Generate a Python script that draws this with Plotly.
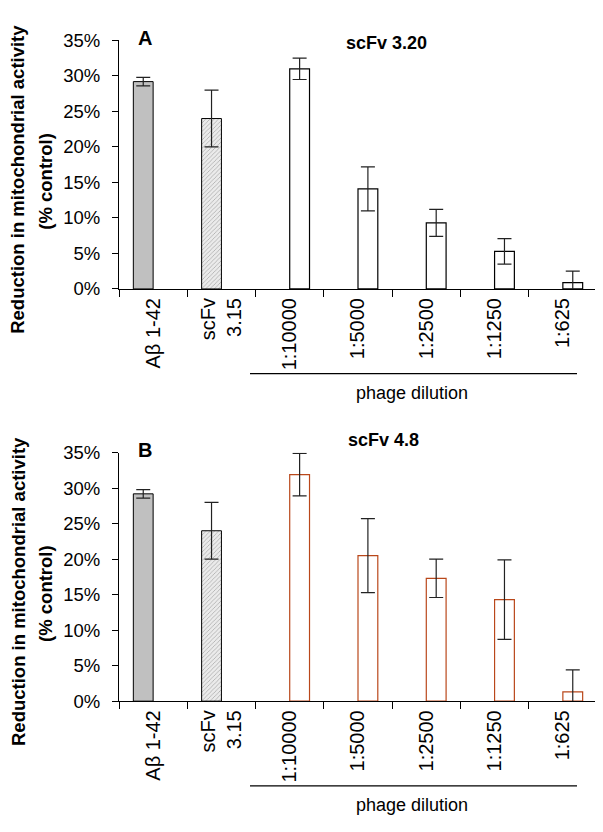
import plotly.graph_objects as go

# the page body adds an 8px margin, so the figure is 8px smaller on each axis
PAGE_OFF = 8
W, H = 603 - PAGE_OFF, 832 - PAGE_OFF

categories = ["Aβ 1-42", "scFv<br>3.15", "1:10000", "1:5000", "1:2500", "1:1250", "1:625"]
y_ticks = [0, 5, 10, 15, 20, 25, 30, 35]
y_tick_text = ["0%", "5%", "10%", "15%", "20%", "25%", "30%", "35%"]

control_vals = [29.2, 24.0]
control_err = [0.6, 4.0]

a_phage_vals = [31.0, 14.1, 9.3, 5.3, 0.9]
a_phage_err = [1.5, 3.1, 1.9, 1.8, 1.6]

b_phage_vals = [31.9, 20.5, 17.3, 14.3, 1.3]
b_phage_err = [3.0, 5.2, 2.7, 5.6, 3.1]

FONT = "Liberation Sans, Arial, sans-serif"
BAR_W = 0.29  # fraction of a category


def px_x(v: float) -> float:
    return (v - PAGE_OFF) / W


def px_y(v: float) -> float:
    return 1 - (v - PAGE_OFF) / H


def add_panel(fig: go.Figure, n: int, phage_vals, phage_err, phage_edge: str) -> None:
    xa, ya = ("x", "y") if n == 1 else (f"x{n}", f"y{n}")
    err_style = dict(type="data", thickness=1.2, width=7, color="#222222")
    fig.add_trace(
        go.Bar(
            x=categories[:2],
            y=control_vals,
            width=BAR_W,
            offset=-BAR_W,
            error_y=dict(array=control_err, **err_style),
            marker=dict(
                color=["#c0c0c0", "#ebebeb"],
                line=dict(color="black", width=1),
                pattern=dict(shape=["", "/"], fgcolor="#c2c2c2", size=3, solidity=0.2),
            ),
            xaxis=xa,
            yaxis=ya,
        )
    )
    fig.add_trace(
        go.Bar(
            x=categories[2:],
            y=phage_vals,
            width=BAR_W,
            offset=0,
            error_y=dict(array=phage_err, **err_style),
            marker=dict(color="white", line=dict(color=phage_edge, width=1.2)),
            xaxis=xa,
            yaxis=ya,
        )
    )


fig = go.Figure()
add_panel(fig, 1, a_phage_vals, a_phage_err, "black")
add_panel(fig, 2, b_phage_vals, b_phage_err, "#b9471a")

xaxis_style = dict(
    type="category",
    categoryorder="array",
    categoryarray=categories,
    range=[-0.5, 6.5],
    domain=[px_x(119), px_x(597)],
    showline=True,
    linecolor="black",
    linewidth=1.2,
    ticks="outside",
    tickson="boundaries",
    ticklen=7,
    tickcolor="black",
    tickangle=-90,
    tickfont=dict(size=20, color="black", family=FONT),
    showgrid=False,
    ticklabelstandoff=0,
)
yaxis_style = dict(
    range=[0, 35],
    tickvals=y_ticks,
    ticktext=y_tick_text,
    showline=True,
    linecolor="black",
    linewidth=1.2,
    ticks="outside",
    ticklen=6,
    tickcolor="black",
    tickfont=dict(size=18.5, color="black", family=FONT),
    showgrid=False,
    zeroline=False,
    ticklabelstandoff=8,
)

fig.update_layout(
    width=W,
    height=H,
    margin=dict(l=0, r=0, t=0, b=0),
    paper_bgcolor="white",
    plot_bgcolor="white",
    showlegend=False,
    font=dict(family=FONT, color="black"),
    xaxis=dict(anchor="y", **xaxis_style),
    yaxis=dict(anchor="x", domain=[px_y(285), px_y(30)], **yaxis_style),
    xaxis2=dict(anchor="y2", **xaxis_style),
    yaxis2=dict(anchor="x2", domain=[px_y(708), px_y(453)], **yaxis_style),
)

offset = 423
panels = [("A", "scFv 3.20", 386, 33), ("B", "scFv 4.8", 383, 440 - offset)]
annotations = []
shapes = []
for i, (letter, title, tx, ty) in enumerate(panels):
    dy = offset * i
    annotations += [
        dict(text=f"<b>{letter}</b>", x=px_x(145), y=px_y(27 + dy), font=dict(size=20)),
        dict(text=f"<b>{title}</b>", x=px_x(tx), y=px_y(ty + dy), font=dict(size=18)),
        dict(text="<b>Reduction in mitochondrial activity</b>", x=px_x(18), y=px_y(173 + dy),
             textangle=-90, font=dict(size=18.5)),
        dict(text="<b>(% control)</b>", x=px_x(46), y=px_y(175 + dy), textangle=-90, font=dict(size=18.5)),
        dict(text="phage dilution", x=px_x(412), y=px_y(392 + dy), font=dict(size=18)),
    ]
    shapes.append(
        dict(type="line", xref="paper", yref="paper", x0=px_x(250), x1=px_x(577),
             y0=px_y(372 + dy), y1=px_y(372 + dy), line=dict(color="black", width=1.2))
    )

for a in annotations:
    a.update(xref="paper", yref="paper", showarrow=False, xanchor="center", yanchor="middle")
    a["font"].update(family=FONT, color="black")

fig.update_layout(annotations=annotations, shapes=shapes)

fig.write_html("out.html")
